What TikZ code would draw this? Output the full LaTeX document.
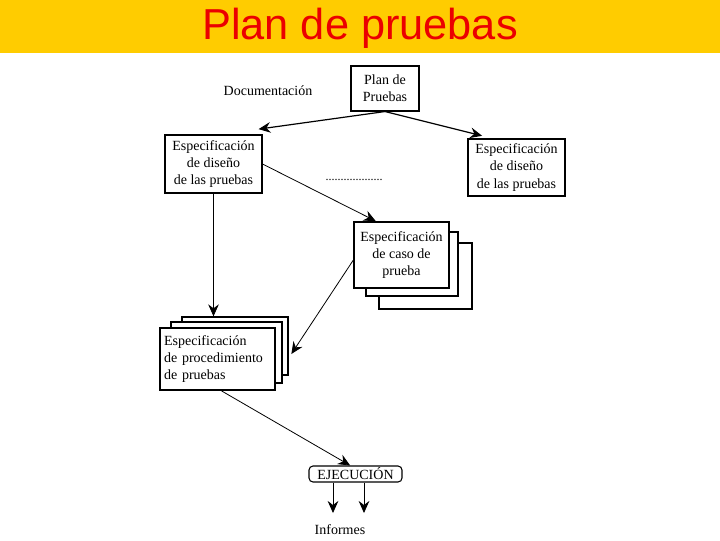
\documentclass[tikz,border=0pt]{standalone}
\usepackage{fontspec}
\setmainfont{Liberation Serif}
\newfontfamily\titlefont{Liberation Sans}
\usetikzlibrary{arrows.meta}

\begin{document}
\begin{tikzpicture}[x=0.75pt,y=0.75pt,yscale=-1,xscale=1,
    doc/.style={draw,line width=0.8pt,fill=white,align=center,inner sep=0pt,
        font=\fontsize{10.5}{13}\selectfont},
    front/.style={doc,line width=1.3pt},
    back/.style={draw,line width=1pt,fill=white,inner sep=0pt},
    con/.style={line width=0.6pt,-{Stealth[length=9pt,width=8pt,inset=3pt]}}]
\useasboundingbox (0,0) rectangle (720,540);

%Title band
\fill [color={rgb, 255:red, 255; green, 204; blue, 0}] (0,0) rectangle (720,53);
\node (title) at (360,28) [text={rgb, 255:red, 235; green, 0; blue, 0}]
    {\titlefont\fontsize{32.5}{36}\selectfont Plan de pruebas};

% Plan de pruebas
\node (plan) at (385,88.5) [doc,minimum width=51pt,minimum height=33.75pt] {Plan de\\Pruebas};
\node (docum) at (268,91) [font=\fontsize{10.5}{13}\selectfont] {Documentación};

% Especificaciones de diseno
\node (lspec) at (213.5,164) [doc,minimum width=72.75pt,minimum height=43.5pt]
    {Especificación\\de diseño\\de las pruebas};
\node (rspec) at (516.5,167.5) [doc,minimum width=72.75pt,minimum height=42.75pt]
    {Especificación\\de diseño\\de las pruebas};
\node (dots) at (354,180) [font=\fontsize{9}{10}\selectfont] {...................};

% Caso de prueba (stack)
\node (caseC) at (425.5,276) [back,minimum width=69.75pt,minimum height=49.5pt] {};
\node (caseB) at (412,264) [back,minimum width=69pt,minimum height=48pt] {};
\node (case) at (401.5,255) [front,minimum width=71.25pt,minimum height=49.5pt]
    {Especificación\\de caso de\\prueba};

% Procedimiento de pruebas (stack)
\node (procC) at (235,346) [back,minimum width=79.5pt,minimum height=43.5pt] {};
\node (procB) at (226.5,352.5) [back,minimum width=83.25pt,minimum height=45.75pt] {};
\node (proc) at (217.5,359) [front,minimum width=86.25pt,minimum height=46.5pt,
    align=left,text width=80pt] {Especificación\\de procedimiento\\de pruebas};

% Ejecucion
\node (ejec) at (355.5,474) [draw,line width=0.8pt,rounded corners=3pt,inner sep=0pt,
    minimum width=69.75pt,minimum height=12pt,font=\fontsize{10.5}{12}\selectfont] {EJECUCIÓN};
\node (inf) at (340,530) [font=\fontsize{10.5}{12}\selectfont] {Informes};
\coordinate (infA) at (333,513);
\coordinate (infB) at (364,513);

% Connectors
\draw [con,line width=0.9pt] (plan.south) -- ([xshift=-3pt,yshift=-4pt]lspec.north east);
\draw [con,line width=0.9pt] (plan.south) -- ([xshift=11pt,yshift=-2pt]rspec.north west);
\draw [con] (lspec.east) -- ([xshift=17pt]case.north west);
\draw [con] (lspec.south) -- (lspec.south |- procC.north);
\draw [con] ([yshift=4pt]case.west) -- ([xshift=2pt,yshift=6pt]procC.east);
\draw [con] ([xshift=3pt]proc.south) -- ([xshift=-4pt]ejec.north);
\draw [con] (ejec.south -| infA) -- (infA);
\draw [con] (ejec.south -| infB) -- (infB);

\end{tikzpicture}
\end{document}
